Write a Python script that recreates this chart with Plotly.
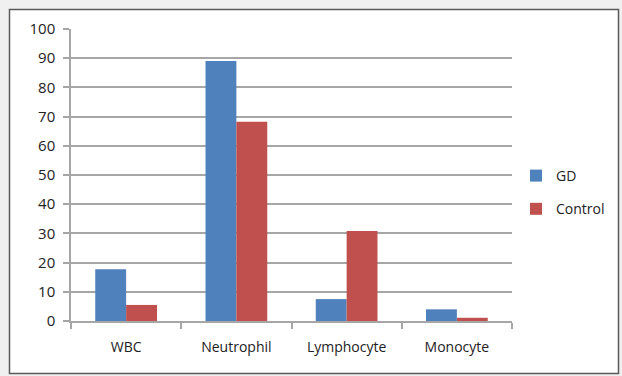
import plotly.graph_objects as go

categories = ["WBC", "Neutrophil", "Lymphocyte", "Monocyte"]
gd_values = [17.7, 89.0, 7.5, 4.0]
control_values = [5.5, 68.2, 30.8, 1.1]
y_ticks = [0, 10, 20, 30, 40, 50, 60, 70, 80, 90, 100]

W, H = 622, 376
L, R, T, B = 71, 110, 29, 55
pw, ph = W - L - R, H - T - B

def px_x(x):
    return (x - L) / pw

def px_y(y):
    return (H - B - y) / ph

font = dict(family="Open Sans, Liberation Sans, Arial", size=14, color="#222222")

fig = go.Figure()
fig.add_trace(go.Bar(name="GD", x=categories, y=gd_values, legendgroup="gd",
                     marker=dict(color="#4F81BD", line=dict(width=0))))
fig.add_trace(go.Bar(name="Control", x=categories, y=control_values, legendgroup="ctrl",
                     marker=dict(color="#C0504D", line=dict(width=0))))

fig.update_layout(
    width=W, height=H,
    margin=dict(l=L, r=R, t=T, b=B, pad=0, autoexpand=False),
    paper_bgcolor="#F0F0F0",
    plot_bgcolor="rgba(0,0,0,0)",
    barmode="group",
    bargap=0.44,
    bargroupgap=0,
    font=font,
    showlegend=True,
    legend=dict(x=px_x(516), y=px_y(160), xanchor="left", yanchor="top",
                bgcolor="rgba(0,0,0,0)", font=font, tracegroupgap=12,
                traceorder="grouped", itemwidth=30),
    shapes=[dict(type="rect", xref="paper", yref="paper", layer="below",
                 x0=px_x(9.5), x1=px_x(618.5), y0=px_y(373.5), y1=px_y(9.5),
                 fillcolor="white", line=dict(color="#5A5A5A", width=1.5))],
)

fig.update_yaxes(
    range=[0, 100], tickvals=y_ticks,
    tickfont=dict(family="Open Sans, Liberation Sans, Arial", size=15, color="#222222"),
    showgrid=True, gridcolor="#A6A6A6", gridwidth=1.5,
    showline=True, linecolor="#A6A6A6", linewidth=1.5,
    ticks="outside", ticklen=6, tickcolor="#A6A6A6", tickwidth=1.5,
    ticklabelstandoff=5, zeroline=False, fixedrange=True,
)
fig.update_xaxes(
    showline=True, linecolor="#A6A6A6", linewidth=1.5,
    ticks="outside", ticklen=6, tickcolor="#A6A6A6", tickwidth=1.5,
    tickson="boundaries", ticklabelstandoff=12, showgrid=False,
)

fig.write_html("out.html")
